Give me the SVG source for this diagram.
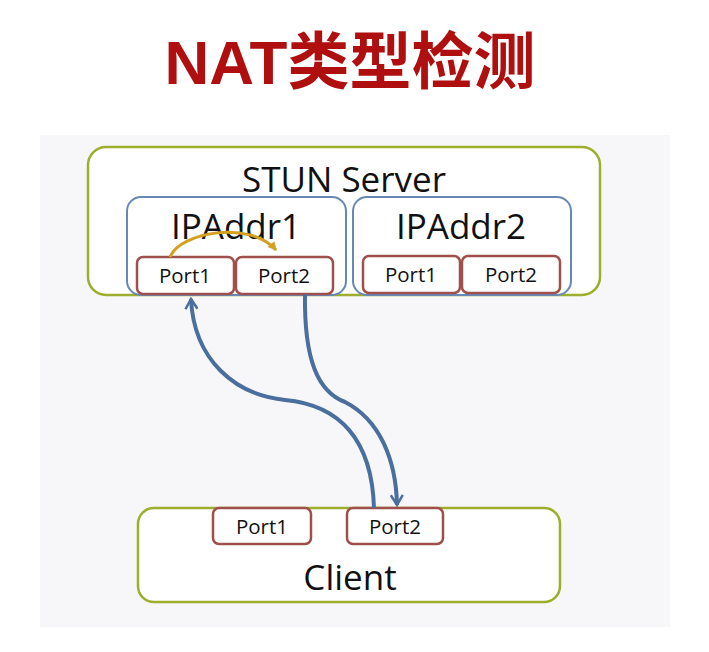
<svg xmlns="http://www.w3.org/2000/svg" width="709" height="652" viewBox="0 0 709 652">
<defs>
<style>
.big{font-family:"Open Sans","DejaVu Sans",sans-serif;font-size:35px;fill:#111;text-anchor:middle}
.port{font-family:"Open Sans","DejaVu Sans",sans-serif;font-size:20.5px;fill:#111;text-anchor:middle}
.outer{fill:#fff;stroke:#9cae2c;stroke-width:2.5}
.ip{fill:#fff;stroke:#6688b8;stroke-width:2}
.pbox{fill:#fff;stroke:#a0504c;stroke-width:2.5}
.conn{fill:none;stroke:#4a6e9e;stroke-width:4}
</style>
<marker id="arr" viewBox="0 0 14 14" refX="12" refY="7" markerWidth="14" markerHeight="14" markerUnits="userSpaceOnUse" orient="auto">
<path d="M2,1 L12,7 L2,13" fill="none" stroke="#4a6e9e" stroke-width="2.5"/>
</marker>
<marker id="arro" viewBox="0 0 10 10" refX="8" refY="5" markerWidth="11" markerHeight="11" markerUnits="userSpaceOnUse" orient="auto">
<path d="M1,1 L9,5 L1,9 Z" fill="#d4a020"/>
</marker>
</defs>
<rect x="0" y="0" width="709" height="652" fill="#fff"/>
<rect x="40" y="135" width="630" height="492" fill="#f7f7f9"/>
<text x="350" y="84" font-family="'Liberation Sans','Noto Sans CJK SC',sans-serif" font-size="62" font-weight="bold" fill="#b00f0f" text-anchor="middle">NAT类型检测</text>
<g id="server">
<rect class="outer" x="88" y="147" width="512" height="148" rx="18"/>
<text class="big" x="344" y="192">STUN Server</text>
</g>
<g id="ipaddr1">
<rect class="ip" x="127" y="197" width="219" height="98" rx="14"/>
<text class="big" x="236" y="239">IPAddr1</text>
</g>
<g id="ipaddr2">
<rect class="ip" x="353" y="197" width="218" height="98" rx="14"/>
<text class="big" x="461" y="239">IPAddr2</text>
</g>
<g id="s1port1">
<rect class="pbox" x="137" y="257" width="97" height="37" rx="6"/>
<text class="port" x="185" y="283">Port1</text>
</g>
<g id="s1port2">
<rect class="pbox" x="236" y="257" width="97" height="37" rx="6"/>
<text class="port" x="284" y="283">Port2</text>
</g>
<g id="s2port1">
<rect class="pbox" x="363" y="256" width="97" height="37" rx="6"/>
<text class="port" x="411" y="282">Port1</text>
</g>
<g id="s2port2">
<rect class="pbox" x="462" y="256" width="98" height="37" rx="6"/>
<text class="port" x="511" y="282">Port2</text>
</g>
<g id="client">
<rect class="outer" x="138" y="508" width="422" height="94" rx="16"/>
<text class="big" x="350" y="590">Client</text>
</g>
<g id="cport1">
<rect class="pbox" x="213" y="508" width="98" height="36" rx="6"/>
<text class="port" x="262" y="534">Port1</text>
</g>
<g id="cport2">
<rect class="pbox" x="347" y="508" width="96" height="36" rx="6"/>
<text class="port" x="395" y="534">Port2</text>
</g>
<g id="connectors">
<path class="conn" d="M374,508 C372,440 340,405 285,400 C235,395 194,360 191,299" marker-end="url(#arr)"/>
<path class="conn" d="M305,294 C304,360 318,392 345,402 C380,420 396,460 397,505" marker-end="url(#arr)"/>
<path d="M170,257 C180,232 250,220 276,250" fill="none" stroke="#d4a020" stroke-width="3" marker-end="url(#arro)"/>
</g>
</svg>
